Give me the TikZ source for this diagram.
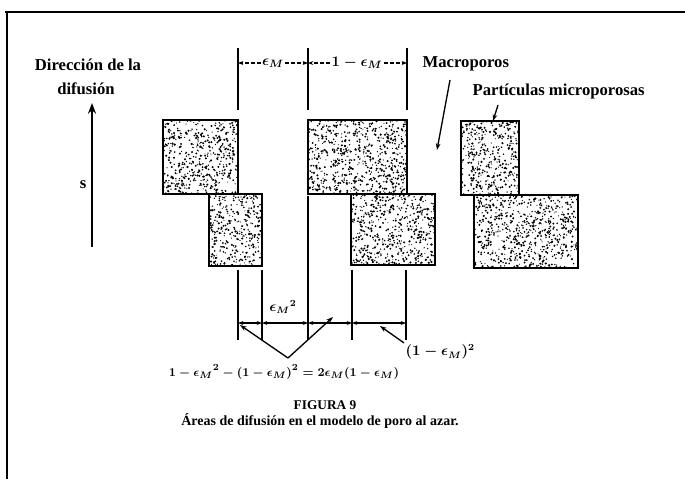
\documentclass[tikz,border=0pt]{standalone}
\usepackage{fontspec}
\setmainfont{Liberation Serif}
\usetikzlibrary{arrows.meta}
\newcommand\stippledsq[5]{%
  \pgfmathtruncatemacro\ndots{(#4-#2)*(#5-#3)/11}
  \begin{scope}
    \clip (#2,#3) rectangle (#4,#5);
    \foreach \k in {1,...,\ndots}{
      \pgfmathsetmacro\px{#2+rnd*(#4-#2)}
      \pgfmathsetmacro\py{#3+rnd*(#5-#3)}
      \pgfmathsetmacro\pr{0.4+0.5*rnd}
      \fill (\px,\py) circle (\pr pt);
    }
  \end{scope}
  \draw[sqline] (#2,#3) rectangle (#4,#5);
  \coordinate (#1) at ({(#2+#4)/2},{(#3+#5)/2});
}
\begin{document}
\begin{tikzpicture}[x=0.75pt,y=-0.75pt,
  lbl/.style={font=\bfseries\fontsize{12.5}{14}\selectfont, inner sep=1pt},
  mathlbl/.style={font=\fontsize{9.5}{11}\selectfont\boldmath, inner sep=1pt},
  sqline/.style={line width=1.7pt},
  extline/.style={line width=0.9pt},
  dimline/.style={line width=0.9pt, {Stealth[length=4pt,width=3pt]}-{Stealth[length=4pt,width=3pt]}},
  dashdim/.style={line width=0.9pt, dash pattern=on 3pt off 1.5pt, -{Stealth[length=4pt,width=3pt]}},
  pointer/.style={line width=1pt, -{Stealth[length=5pt,width=3.5pt]}}]
\useasboundingbox (0,0) rectangle (685,479);
\fill[white] (0,0) rectangle (685,479);
% frame
\coordinate (fTL) at (7,12);
\coordinate (fTR) at (685,12);
\coordinate (fBL) at (7,479);
\draw[line width=1.1pt] (fTR) -- (5,12) -- (fTL) -- (fBL);
% direction arrow
\coordinate (sBot) at (92,247);
\coordinate (sTop) at (92,103);
\draw[line width=1.8pt, -{Stealth[length=8pt,width=6pt]}] (sBot) -- (sTop);
\node[lbl] (s) at (83,185) {s};
\node[lbl] (dir1) at (88,65) {Dirección de la};
\node[lbl] (dir2) at (86,89) {difusión};
% stippled squares
\pgfmathsetseed{4711}
\stippledsq{LT}{163}{120}{238}{194}
\stippledsq{LB}{209}{194}{262}{266}
\stippledsq{MT}{308}{120}{407}{194}
\stippledsq{MB}{351}{194}{435}{265}
\stippledsq{RT}{461}{121}{519}{195}
\stippledsq{RB}{474}{195}{578}{268}
% top extension lines
\foreach \n/\x in {ta/238, tb/308, tc/407}{
  \coordinate (\n1) at (\x,48);
  \coordinate (\n2) at (\x,110);
  \coordinate (\n m) at (\x,63);
  \draw[extline] (\n1) -- (\n2);
}
\node[mathlbl, font=\fontsize{11}{13}\selectfont\boldmath] (eM) at (273,63) {$\epsilon_M$};
\node[mathlbl, font=\fontsize{11}{13}\selectfont\boldmath] (omeM) at (357,63) {$1-\epsilon_M$};
\draw[dashdim] (eM.west) -- (tam);
\draw[dashdim] (eM.east) -- (tbm);
\draw[dashdim] (omeM.west) -- (tbm);
\draw[dashdim] (omeM.east) -- (tcm);
% bottom extension lines
\foreach \n/\x/\y in {ba/238/270, bb/262/270, bc/308/196, bd/352/270, be/406/270}{
  \coordinate (\n1) at (\x,\y);
  \coordinate (\n2) at (\x,340);
  \coordinate (\n m) at (\x,323);
  \draw[extline] (\n1) -- (\n2);
}
\draw[dimline] (bam) -- (bbm);
\draw[dimline] (bbm) -- (bcm);
\draw[dimline] (bcm) -- (bdm);
\draw[dimline] (bdm) -- (bem);
\node[mathlbl, font=\fontsize{10.5}{12}\selectfont\boldmath] (eM2) at (283,307) {$\epsilon_M{}^2$};
% V pointer
\coordinate (vtx) at (288,358);
\coordinate (vL) at (240,325);
\coordinate (vR) at (333,317);
\draw[pointer] (vtx) -- (vL);
\draw[pointer] (vtx) -- (vR);
\node[mathlbl] (formula) at (284,372) {$1-\epsilon_M{}^2-(1-\epsilon_M)^2=2\epsilon_M(1-\epsilon_M)$};
\node[mathlbl, font=\fontsize{10.5}{12}\selectfont\boldmath, anchor=west] (omeM2) at (404,352) {$(1-\epsilon_M)^2$};
\coordinate (pA) at (380,326);
\draw[pointer] (omeM2.north west) -- (pA);
% labels on right
\node[lbl, anchor=west] (macro) at (421,64) {Macroporos};
\coordinate (macroTip) at (437,150);
\draw[pointer] (450,80) -- (macroTip);
\node[lbl, anchor=west] (part) at (471,91) {Partículas microporosas};
\coordinate (partTip) at (493,121);
\draw[pointer] (498,105) -- (partTip);
% caption
\node[lbl, font=\bfseries\fontsize{10}{12}\selectfont] (fig) at (325,405) {FIGURA 9};
\node[lbl, font=\bfseries\fontsize{10.5}{12}\selectfont] (cap) at (320,421) {Áreas de difusión en el modelo de poro al azar.};
\end{tikzpicture}
\end{document}
